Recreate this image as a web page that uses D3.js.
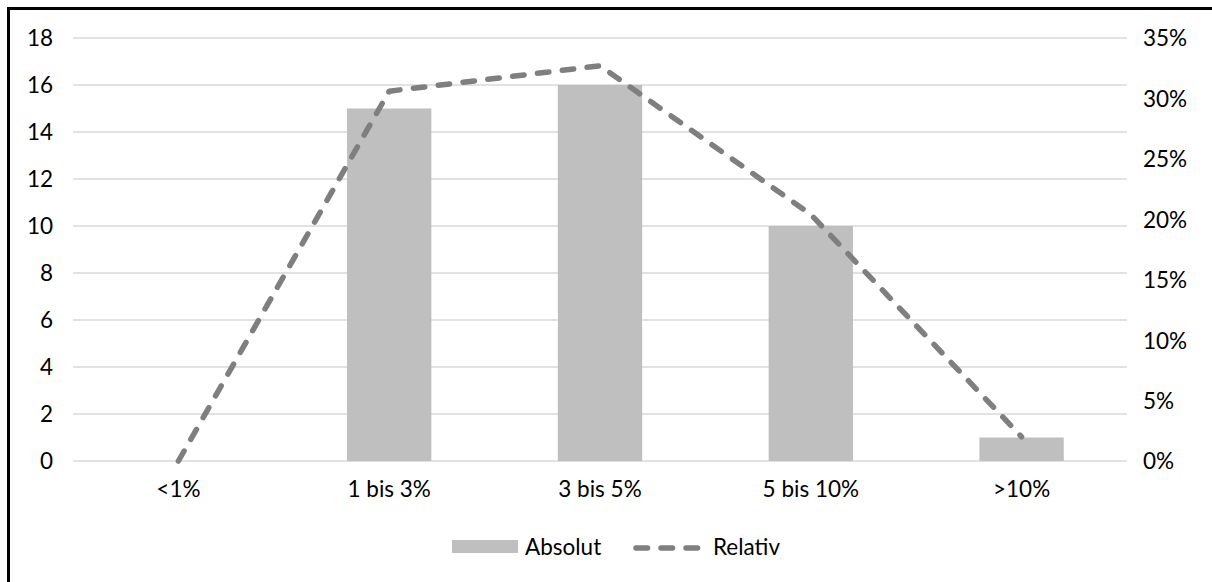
<!DOCTYPE html>
<html>
<head>
<meta charset="utf-8">
<script src="https://cdn.jsdelivr.net/npm/d3@7"></script>
<style>
  body { margin: 0; background: #fff; }
  svg text { font-family: Lato, "Open Sans", sans-serif; fill: #000; }
</style>
</head>
<body>
<div id="chart"></div>
<script>
'use strict';

// chart data
var categories  = ["<1%", "1 bis 3%", "3 bis 5%", "5 bis 10%", ">10%"];
var absolut     = [0, 15, 16, 10, 1];
var relativ     = [0, 0.306, 0.327, 0.204, 0.020];
var leftTicks   = [0, 2, 4, 6, 8, 10, 12, 14, 16, 18];
var rightTicks  = [0, 0.05, 0.10, 0.15, 0.20, 0.25, 0.30, 0.35];
var seriesNames = ["Absolut", "Relativ"];

var W = 1212, H = 582;
var plot = { left: 73, right: 1127, top: 38, bottom: 461 };
var barColor = "#bfbfbf", lineColor = "#7f7f7f", gridColor = "#d9d9d9";
var fontSize = "22.5px";

var svg = d3.select("#chart").append("svg")
    .attr("width", W)
    .attr("height", H);

svg.append("rect").attr("width", W).attr("height", H).style("fill", "#fff");

var x = d3.scaleBand()
    .domain(categories)
    .range([plot.left, plot.right])
    .paddingInner(0.6)
    .paddingOuter(0.3);

var y = d3.scaleLinear().domain([0, 18]).range([plot.bottom, plot.top]);
var y2 = d3.scaleLinear().domain([0, 0.35]).range([plot.bottom, plot.top]);

// gridlines
svg.append("g").selectAll("line")
  .data(leftTicks)
  .join("line")
    .attr("x1", plot.left)
    .attr("x2", plot.right)
    .attr("y1", function(d) { return y(d); })
    .attr("y2", function(d) { return y(d); })
    .style("stroke", gridColor)
    .style("stroke-width", 1.5);

// left axis
var leftAxis = svg.append("g")
    .attr("transform", "translate(" + (plot.left - 20) + ",0)")
    .call(d3.axisLeft(y).tickValues(leftTicks).tickSize(0).tickPadding(0));
leftAxis.select(".domain").remove();
leftAxis.selectAll("text").style("font-size", fontSize).attr("dy", "0.35em");

// right axis
var rightAxis = svg.append("g")
    .attr("transform", "translate(" + (plot.right + 16) + ",0)")
    .call(d3.axisRight(y2).tickValues(rightTicks).tickSize(0).tickPadding(0)
      .tickFormat(d3.format(".0%")));
rightAxis.select(".domain").remove();
rightAxis.selectAll("text").style("font-size", fontSize).attr("dy", "0.35em");

// bottom axis labels
var bottomAxis = svg.append("g")
    .attr("transform", "translate(0," + (plot.bottom + 20) + ")")
    .call(d3.axisBottom(x).tickSize(0).tickPadding(0));
bottomAxis.select(".domain").remove();
bottomAxis.selectAll("text").style("font-size", fontSize).attr("dy", "0.72em");

// bars
svg.append("g").selectAll("rect")
  .data(absolut)
  .join("rect")
    .attr("x", function(d, i) { return x(categories[i]); })
    .attr("y", function(d) { return y(d); })
    .attr("width", x.bandwidth())
    .attr("height", function(d) { return y(0) - y(d); })
    .style("fill", barColor);

// dashed line on the secondary axis
var line = d3.line()
    .x(function(d, i) { return x(categories[i]) + x.bandwidth() / 2; })
    .y(function(d) { return y2(d); });

svg.append("path")
    .datum(relativ)
    .attr("d", line)
    .style("fill", "none")
    .style("stroke", lineColor)
    .style("stroke-width", 5.5)
    .style("stroke-linecap", "round")
    .style("stroke-linejoin", "round")
    .style("stroke-dasharray", "11.5,13.5");

// legend
var legend = svg.append("g");
legend.append("rect")
    .attr("x", 452).attr("y", 540)
    .attr("width", 66).attr("height", 13)
    .style("fill", barColor);
legend.append("text")
    .attr("x", 525).attr("y", 547)
    .attr("dy", "0.35em")
    .style("font-size", fontSize)
    .text(seriesNames[0]);
legend.append("line")
    .attr("x1", 636).attr("x2", 700)
    .attr("y1", 548).attr("y2", 548)
    .style("stroke", lineColor)
    .style("stroke-width", 5.5)
    .style("stroke-linecap", "round")
    .style("stroke-dasharray", "11.5,13.5");
legend.append("text")
    .attr("x", 713).attr("y", 547)
    .attr("dy", "0.35em")
    .style("font-size", fontSize)
    .text(seriesNames[1]);

// frame: only left and top edges are visible in the crop
svg.append("path")
    .attr("d", "M8.5," + H + "V8.5H" + W)
    .style("fill", "none")
    .style("stroke", "#000")
    .style("stroke-width", 3);
</script>
</body>
</html>
